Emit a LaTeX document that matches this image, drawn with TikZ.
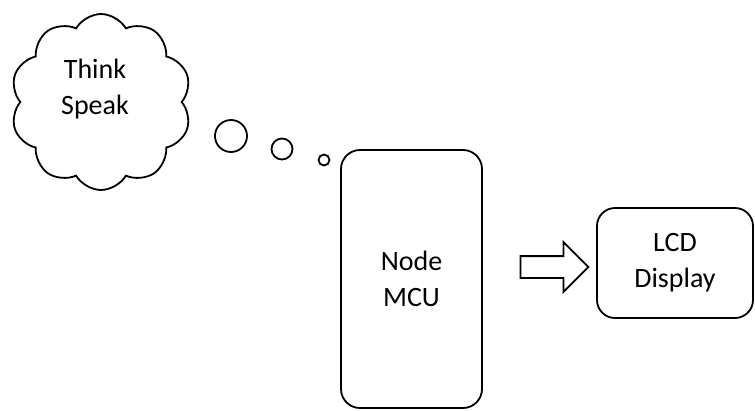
\documentclass[tikz,border=0pt]{standalone}
\usepackage{fontspec}
\setmainfont{Carlito}
\usetikzlibrary{shapes.symbols, shapes.arrows}

\begin{document}
\begin{tikzpicture}[x=1pt, y=-1pt, line width=1.8pt,
    txt/.style={align=center, font=\fontsize{28}{36}\selectfont},
    box/.style={draw, rounded corners=19pt, txt}]
  \useasboundingbox (0,0) rectangle (755,410);
  % cloud and its bubbles
  \node[draw, cloud, cloud puffs=10, cloud puff arc=120, aspect=1.05, minimum width=181pt, minimum height=176pt, inner sep=0pt] (cloud) at (101,102) {};
  \node[txt] (speak) at (95,89) {Think\\Speak};
  \foreach \k/\x/\y/\d in {1/231/136/32, 2/282/149/21, 3/324/160/11}
    \node[draw, circle, minimum size=\d pt, inner sep=0pt] (bub\k) at (\x,\y) {};
  % blocks
  \node[box, minimum width=141pt, minimum height=258pt] (mcu) at (411.5,279) {Node\\MCU};
  \node[box, rounded corners=18pt, minimum width=156pt, minimum height=110pt] (lcd) at (675,263) {LCD\\Display};
  \node[draw, single arrow, single arrow head extend=14pt, inner sep=10pt, minimum height=68pt] (arr) at (549,267) {};
\end{tikzpicture}
\end{document}
